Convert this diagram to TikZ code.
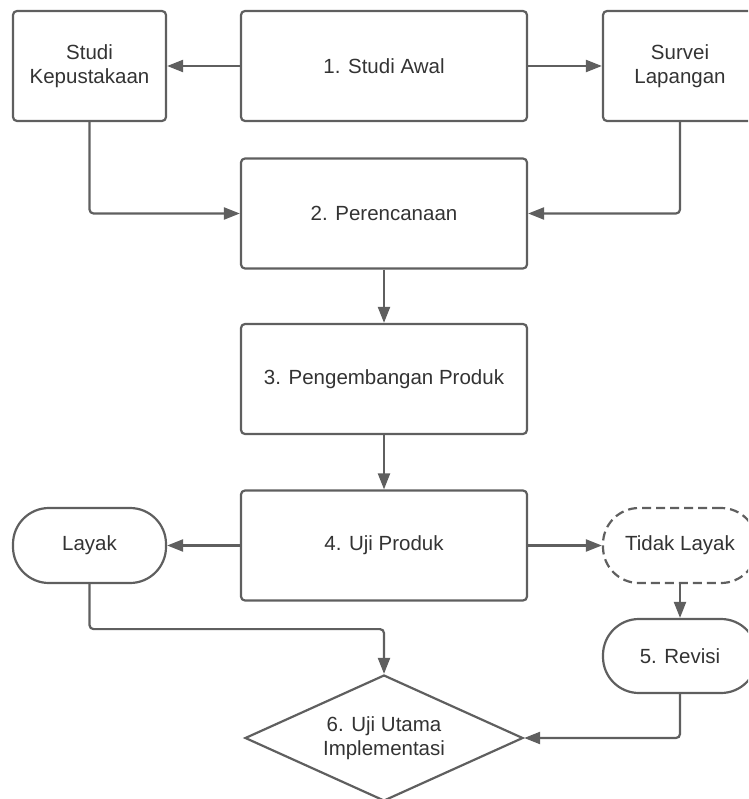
\documentclass[tikz,border=0pt]{standalone}
\usepackage{fontspec}
\setmainfont{Liberation Sans}
\usetikzlibrary{shapes.geometric,arrows.meta}
\definecolor{linec}{HTML}{5F5F5F}
\definecolor{textc}{HTML}{333333}
\tikzset{
  base/.style={draw=linec, line width=2.2pt, text=textc, font=\fontsize{20.5}{24.5}\selectfont, align=center, inner sep=2pt},
  stepbox/.style={base, rectangle, rounded corners=4pt},
  pill/.style={base, rectangle, rounded corners=36pt},
  decide/.style={base, diamond, aspect=2.2, minimum width=278pt, minimum height=126pt, inner sep=0pt},
  arr/.style={draw=linec, line width=2.2pt, rounded corners=4pt, -{Triangle[length=16pt,width=12pt]}}
}
\begin{document}
\begin{tikzpicture}[x=1pt,y=-1pt]
\useasboundingbox (0,0) rectangle (748,799);
\clip (0,0) rectangle (748,799);
\node[stepbox, minimum width=153pt, minimum height=110pt] (kep) at (89.5,66) {Studi\\Kepustakaan};
\node[stepbox, minimum width=286pt, minimum height=110pt] (awal) at (384,66) {1. Studi Awal};
\node[stepbox, minimum width=154pt, minimum height=110pt] (surv) at (680,66) {Survei\\Lapangan};
\node[stepbox, minimum width=286pt, minimum height=110pt] (ren) at (384,213.5) {2. Perencanaan};
\node[stepbox, minimum width=286pt, minimum height=110pt] (dev) at (384,379) {3. Pengembangan Produk};
\node[stepbox, minimum width=286pt, minimum height=110pt] (uji) at (384,545.5) {4. Uji Produk};
\node[pill, minimum width=153pt, minimum height=75pt] (layak) at (89.5,545.5) {Layak};
\node[pill, dash pattern=on 9pt off 5pt, minimum width=154pt, minimum height=75pt] (tidak) at (680,545.5) {Tidak Layak};
\node[pill, minimum width=154pt, minimum height=74pt] (revisi) at (680,656) {5. Revisi};
\node[decide] (main) at (384,738) {6. Uji Utama\\Implementasi};
\draw[arr] (awal.west) -- (kep.east);
\draw[arr] (awal.east) -- (surv.west);
\draw[arr] (kep.south) |- (ren.west);
\draw[arr] (surv.south) |- (ren.east);
\draw[arr] (ren.south) -- (dev.north);
\draw[arr] (dev.south) -- (uji.north);
\draw[arr] (uji.west) -- (layak.east);
\draw[arr] (uji.east) -- (tidak.west);
\draw[arr] (tidak.south) -- (revisi.north);
\draw[arr] (layak.south) -- ++(0,45) -| (main.north);
\draw[arr] (revisi.south) |- (main.east);
\end{tikzpicture}
\end{document}
